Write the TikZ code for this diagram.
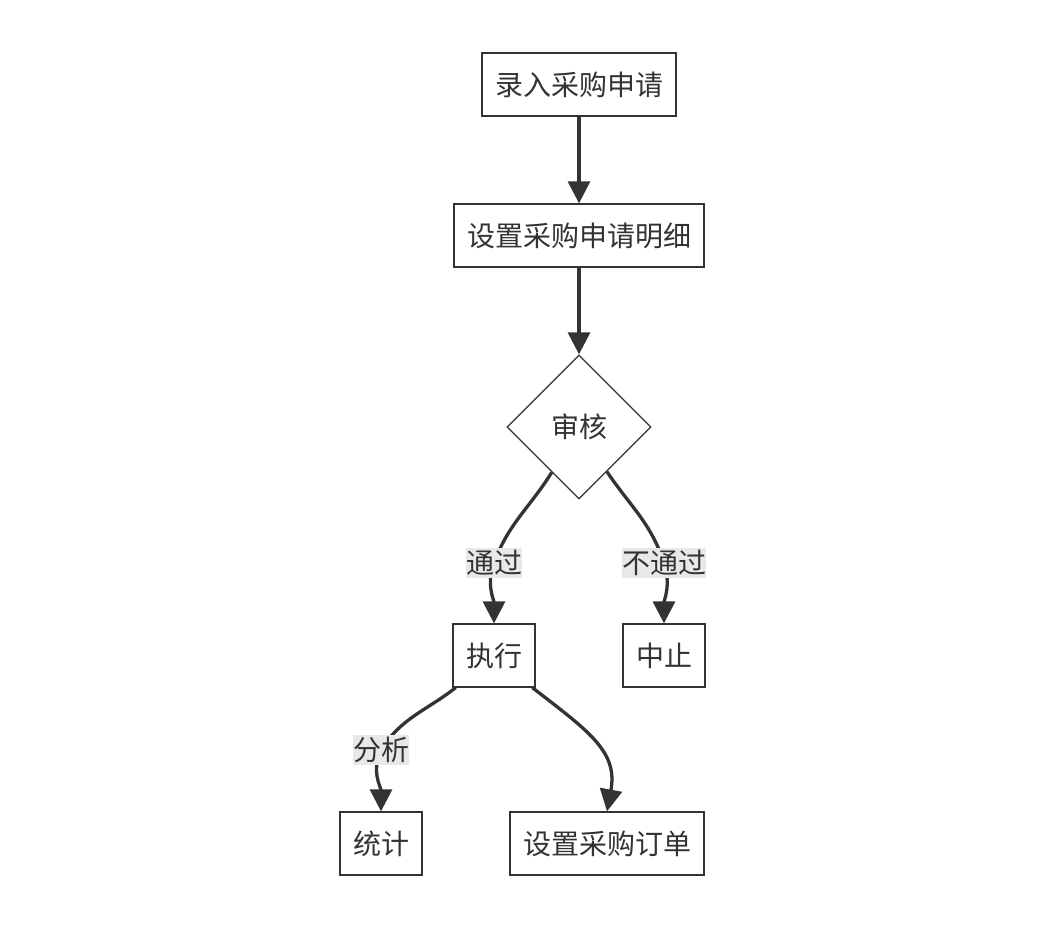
\documentclass[tikz,border=0pt]{standalone}
\usepackage{fontspec}
\setmainfont{Noto Sans CJK SC}
\usetikzlibrary{shapes,arrows.meta}
\definecolor{ink}{HTML}{333333}
\definecolor{labelbg}{HTML}{E8E8E8}
\tikzstyle{node_box} = [rectangle, draw=ink, fill=white, line width=1.3pt, text=ink, inner xsep=13pt, inner ysep=0pt, minimum height=63pt, font=\fontsize{28}{34}\selectfont]
\tikzstyle{node_decision} = [diamond, draw=ink, fill=white, line width=1.3pt, text=ink, inner sep=0pt, minimum size=144pt, font=\fontsize{28}{34}\selectfont]
\tikzstyle{edge_normal} = [draw=ink, line width=3.3pt, -{Triangle[length=22pt,width=22pt]}]
\tikzstyle{edge_label} = [fill=labelbg, text=ink, inner xsep=0pt, inner ysep=2pt, font=\fontsize{28}{34}\selectfont]

\begin{document}
\begin{tikzpicture}[x=1pt, y=1pt]
		\useasboundingbox (0,0) rectangle (1046,-932);
		\node (luru) at (579,-84.5) [node_box] {录入采购申请};
		\node (mingxi) at (579,-235.5) [node_box] {设置采购申请明细};
		\node (shenhe) at (579,-427) [node_decision] {审核};
		\node (zhixing) at (494,-655.5) [node_box] {执行};
		\node (zhongzhi) at (664,-655.5) [node_box] {中止};
		\node (tongji) at (381,-843.5) [node_box] {统计};
		\node (dingdan) at (607,-843.5) [node_box] {设置采购订单};
		
		\draw[edge_normal] (luru) -- (mingxi);
		\draw[edge_normal] (mingxi) -- (shenhe);
		\draw[edge_normal] (shenhe.-121) to[out=-122,in=70] (494,-563) node[edge_label] (lbl_pass) {通过} to[out=-110,in=90] (zhixing.north);
		\draw[edge_normal] (shenhe.-58) to[out=-56,in=108] (664,-563) node[edge_label] (lbl_fail) {不通过} to[out=-72,in=90] (zhongzhi.north);
		\draw[edge_normal] (zhixing.-140) to[out=-142,in=58] (381,-750) node[edge_label] (lbl_stat) {分析} to[out=-115,in=90] (tongji.north);
		\draw[edge_normal] (zhixing.-40) .. controls (590,-732) and (618,-752) .. (dingdan.north);
\end{tikzpicture}
\end{document}
